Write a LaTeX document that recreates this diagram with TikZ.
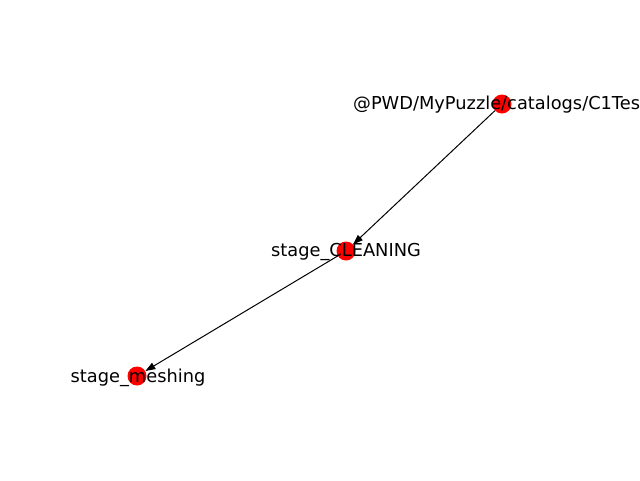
\documentclass[tikz,border=0pt]{standalone}
\usepackage{fontspec}
\setmainfont{DejaVu Sans}
\usetikzlibrary{arrows.meta}
\tikzset{
  vert/.style={circle,fill=red,draw=none,minimum size=19pt,inner sep=0pt},
  lab/.style={font=\fontsize{17.8}{21}\selectfont,inner sep=0pt,text=black},
  edge/.style={draw=black,line width=1pt,-{Triangle[length=10pt,width=7pt]},shorten >=0pt}
}
\begin{document}
\begin{tikzpicture}[x=1pt,y=-1pt]
\clip (0,0) rectangle (640,480);
\fill[white] (0,0) rectangle (640,480);
\node[vert] (n1) at (502,104) {};
\node[vert] (n2) at (346,251) {};
\node[vert] (n3) at (137,376) {};
\draw[edge] (n1) -- (n2);
\draw[edge] (n2) -- (n3);
\node[lab,anchor=west] (l1) at (353,105) {@PWD/MyPuzzle/catalogs/C1Test};
\node[lab] (l2) at (346,251.5) {stage\_CLEANING};
\node[lab] (l3) at (138,377.5) {stage\_meshing};
\end{tikzpicture}
\end{document}
